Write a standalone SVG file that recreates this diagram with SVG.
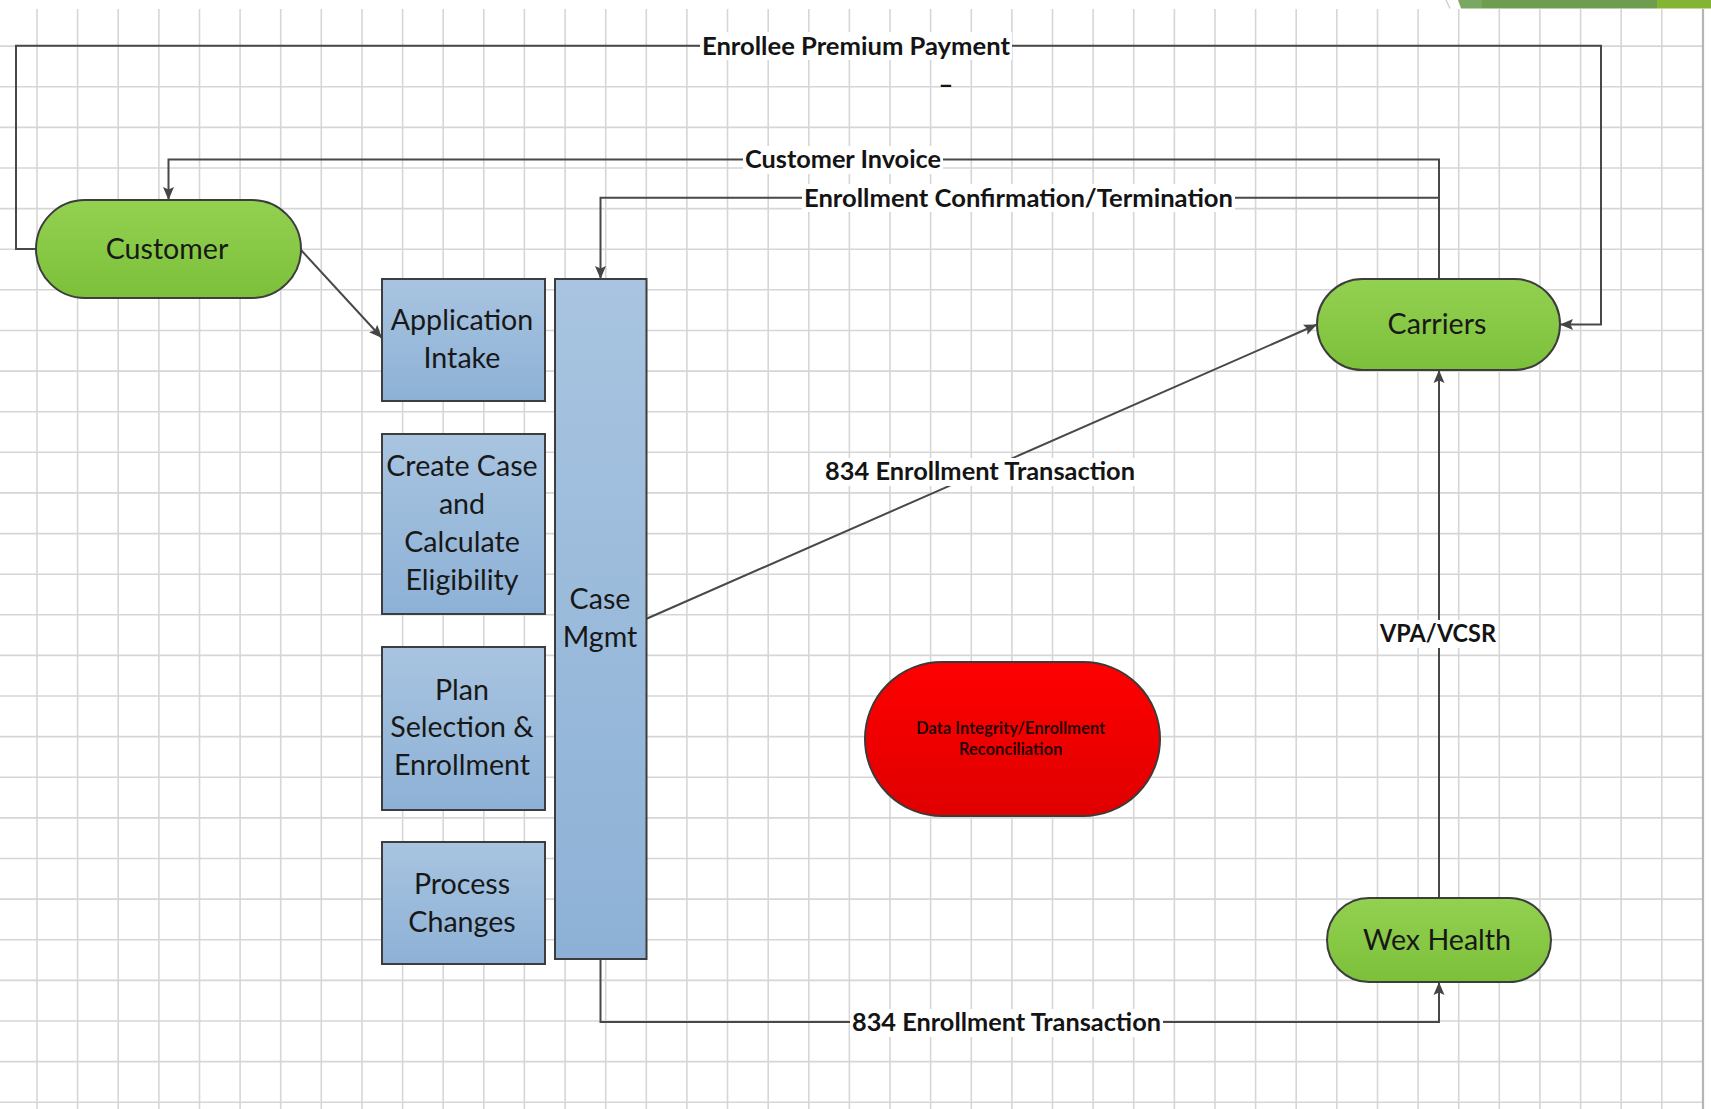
<svg xmlns="http://www.w3.org/2000/svg" width="1711" height="1109" viewBox="0 0 1711 1109">
  <defs>
    <linearGradient id="gGreen" x1="0" y1="0" x2="0" y2="1">
      <stop offset="0" stop-color="#93d151"/>
      <stop offset="1" stop-color="#7cc03a"/>
    </linearGradient>
    <linearGradient id="gBlue" x1="0" y1="0" x2="0" y2="1">
      <stop offset="0" stop-color="#a8c4e0"/>
      <stop offset="1" stop-color="#8db1d6"/>
    </linearGradient>
    <linearGradient id="gRed" x1="0" y1="0" x2="0" y2="1">
      <stop offset="0" stop-color="#ff0000"/>
      <stop offset="1" stop-color="#df0000"/>
    </linearGradient>
    <filter id="soft" x="-5%" y="-20%" width="110%" height="140%">
      <feGaussianBlur stdDeviation="0.6"/>
    </filter>
    <marker id="arrow" markerUnits="userSpaceOnUse" markerWidth="14" markerHeight="12" refX="13" refY="6" orient="auto">
      <path d="M0,0.5 L13,6 L0,11.5 L2.5,6 Z" fill="#454545"/>
    </marker>
  </defs>
  <style>
    .grid { stroke: #d6d6d6; stroke-width: 1.6; fill: none; }
    .edge { stroke: #b5b5b5; stroke-width: 2.2; fill: none; }
    .pill { fill: url(#gGreen); stroke: #3d3d3d; stroke-width: 2; }
    .box { fill: url(#gBlue); stroke: #3d3d3d; stroke-width: 2; }
    .alert { fill: url(#gRed); stroke: #3a3a3a; stroke-width: 2; }
    .conn { fill: none; stroke: #484848; stroke-width: 2; }
    .node-text { font-family: Lato, "Liberation Sans", sans-serif; font-size: 28.6px; fill: #181818; text-anchor: middle; }
    .small-text { font-family: Lato, "Liberation Sans", sans-serif; font-size: 16.5px; font-weight: bold; fill: #220000; text-anchor: middle; }
    .label { font-family: Lato, "Liberation Sans", sans-serif; font-size: 25.5px; font-weight: bold; fill: #141414; text-anchor: middle; }
    .label-bg { fill: #ffffff; }
  </style>

  <!-- page background -->
  <rect x="0" y="0" width="1711" height="1109" fill="#ffffff"/>

  <!-- top-right title bar strip -->
  <g id="title-strip">
    <line x1="1446" y1="0" x2="1450" y2="8.5" stroke="#c8c8c8" stroke-width="1.2"/>
    <polygon points="1458,0 1482,0 1482,8.5 1461,8.5" fill="#7aa862"/>
    <rect x="1482" y="0" width="175" height="8.5" fill="#6f9d50"/>
    <rect x="1657" y="0" width="54" height="8.5" fill="#84b532"/>
  </g>

  <!-- drawing grid -->
  <g id="grid">
    <path class="grid" d="M37,9V1109 M77.6,9V1109 M118.2,9V1109 M158.9,9V1109 M199.5,9V1109 M240.1,9V1109 M280.7,9V1109 M321.3,9V1109 M362,9V1109 M402.6,9V1109 M443.2,9V1109 M483.8,9V1109 M524.4,9V1109 M565.1,9V1109 M605.7,9V1109 M646.3,9V1109 M686.9,9V1109 M727.5,9V1109 M768.2,9V1109 M808.8,9V1109 M849.4,9V1109 M890,9V1109 M930.6,9V1109 M971.3,9V1109 M1011.9,9V1109 M1052.5,9V1109 M1093.1,9V1109 M1133.7,9V1109 M1174.4,9V1109 M1215,9V1109 M1255.6,9V1109 M1296.2,9V1109 M1336.8,9V1109 M1377.5,9V1109 M1418.1,9V1109 M1458.7,9V1109 M1499.3,9V1109 M1539.9,9V1109 M1580.6,9V1109 M1621.2,9V1109 M1661.8,9V1109"/>
    <path class="grid" d="M0,46.1H1703 M0,86.7H1703 M0,127.4H1703 M0,168H1703 M0,208.6H1703 M0,249.2H1703 M0,289.8H1703 M0,330.5H1703 M0,371.1H1703 M0,411.7H1703 M0,452.3H1703 M0,492.9H1703 M0,533.6H1703 M0,574.2H1703 M0,614.8H1703 M0,655.4H1703 M0,696H1703 M0,736.6H1703 M0,777.3H1703 M0,817.9H1703 M0,858.5H1703 M0,899.1H1703 M0,939.8H1703 M0,980.4H1703 M0,1021H1703 M0,1061.6H1703 M0,1102.2H1703"/>
    <path class="edge" d="M1703,9V1109"/>
  </g>

  <!-- connectors -->
  <g id="connectors">
    <path class="conn" d="M36,249 H16 V45.8 H1601 V324.5 H1560" marker-end="url(#arrow)"/>
    <path class="conn" d="M1439,279 V159.5 H168.5 V200" marker-end="url(#arrow)"/>
    <path class="conn" d="M1439,197.7 H600.5 V279" marker-end="url(#arrow)"/>
    <path class="conn" d="M301,250 L382,338" marker-end="url(#arrow)"/>
    <path class="conn" d="M646,619 L1317,324.5" marker-end="url(#arrow)"/>
    <path class="conn" d="M600.5,959 V1022 H1439 V982" marker-end="url(#arrow)"/>
    <path class="conn" d="M1439,898 V370" marker-end="url(#arrow)"/>

    <g id="connector-labels">
      <rect class="label-bg" x="700" y="32" width="312" height="28"/>
      <text class="label" x="856" y="54.5" textLength="308" lengthAdjust="spacingAndGlyphs">Enrollee Premium Payment</text>
      <text class="label" x="946" y="93" font-size="22">–</text>

      <rect class="label-bg" x="743" y="146" width="200" height="28"/>
      <text class="label" x="843" y="168" textLength="196" lengthAdjust="spacingAndGlyphs">Customer Invoice</text>

      <rect class="label-bg" x="802" y="184" width="433" height="28"/>
      <text class="label" x="1018.5" y="206.5" textLength="429" lengthAdjust="spacingAndGlyphs">Enrollment Confirmation/Termination</text>

      <rect class="label-bg" x="823" y="458" width="314" height="28"/>
      <text class="label" x="980" y="480" textLength="310" lengthAdjust="spacingAndGlyphs">834 Enrollment Transaction</text>

      <rect class="label-bg" x="850" y="1009" width="313" height="28"/>
      <text class="label" x="1006.5" y="1030.5" textLength="309" lengthAdjust="spacingAndGlyphs">834 Enrollment Transaction</text>

      <rect class="label-bg" x="1378" y="620" width="120" height="28"/>
      <text class="label" x="1438" y="642" textLength="116" lengthAdjust="spacingAndGlyphs">VPA/VCSR</text>
    </g>
  </g>

  <!-- actors -->
  <g id="customer">
    <rect class="pill" x="36" y="200" width="265" height="98" rx="49"/>
    <text class="node-text" x="167" y="259">Customer</text>
  </g>

  <g id="carriers">
    <rect class="pill" x="1317" y="279" width="243" height="91" rx="45.5"/>
    <text class="node-text" x="1437" y="334">Carriers</text>
  </g>

  <g id="wex-health">
    <rect class="pill" x="1327" y="898" width="224" height="84" rx="42"/>
    <text class="node-text" x="1437" y="949.5">Wex Health</text>
  </g>

  <!-- process steps -->
  <g id="application-intake">
    <rect class="box" x="382" y="279" width="163" height="122"/>
    <text class="node-text" x="462" y="330">Application</text>
    <text class="node-text" x="462" y="368">Intake</text>
  </g>

  <g id="create-case">
    <rect class="box" x="382" y="434" width="163" height="180"/>
    <text class="node-text" x="462" y="476">Create Case</text>
    <text class="node-text" x="462" y="514">and</text>
    <text class="node-text" x="462" y="552">Calculate</text>
    <text class="node-text" x="462" y="590">Eligibility</text>
  </g>

  <g id="plan-selection">
    <rect class="box" x="382" y="647" width="163" height="163"/>
    <text class="node-text" x="462" y="700">Plan</text>
    <text class="node-text" x="462" y="737">Selection &amp;</text>
    <text class="node-text" x="462" y="775">Enrollment</text>
  </g>

  <g id="process-changes">
    <rect class="box" x="382" y="842" width="163" height="122"/>
    <text class="node-text" x="462" y="894">Process</text>
    <text class="node-text" x="462" y="932">Changes</text>
  </g>

  <g id="case-mgmt">
    <rect class="box" x="555" y="279" width="91.5" height="680"/>
    <text class="node-text" x="600" y="609">Case</text>
    <text class="node-text" x="600" y="647">Mgmt</text>
  </g>

  <!-- reconciliation -->
  <g id="data-integrity">
    <rect class="alert" x="865" y="662" width="295" height="154" rx="77"/>
    <g filter="url(#soft)">
      <text class="small-text" x="1011" y="734">Data Integrity/Enrollment</text>
      <text class="small-text" x="1011" y="755">Reconciliation</text>
    </g>
  </g>
</svg>
